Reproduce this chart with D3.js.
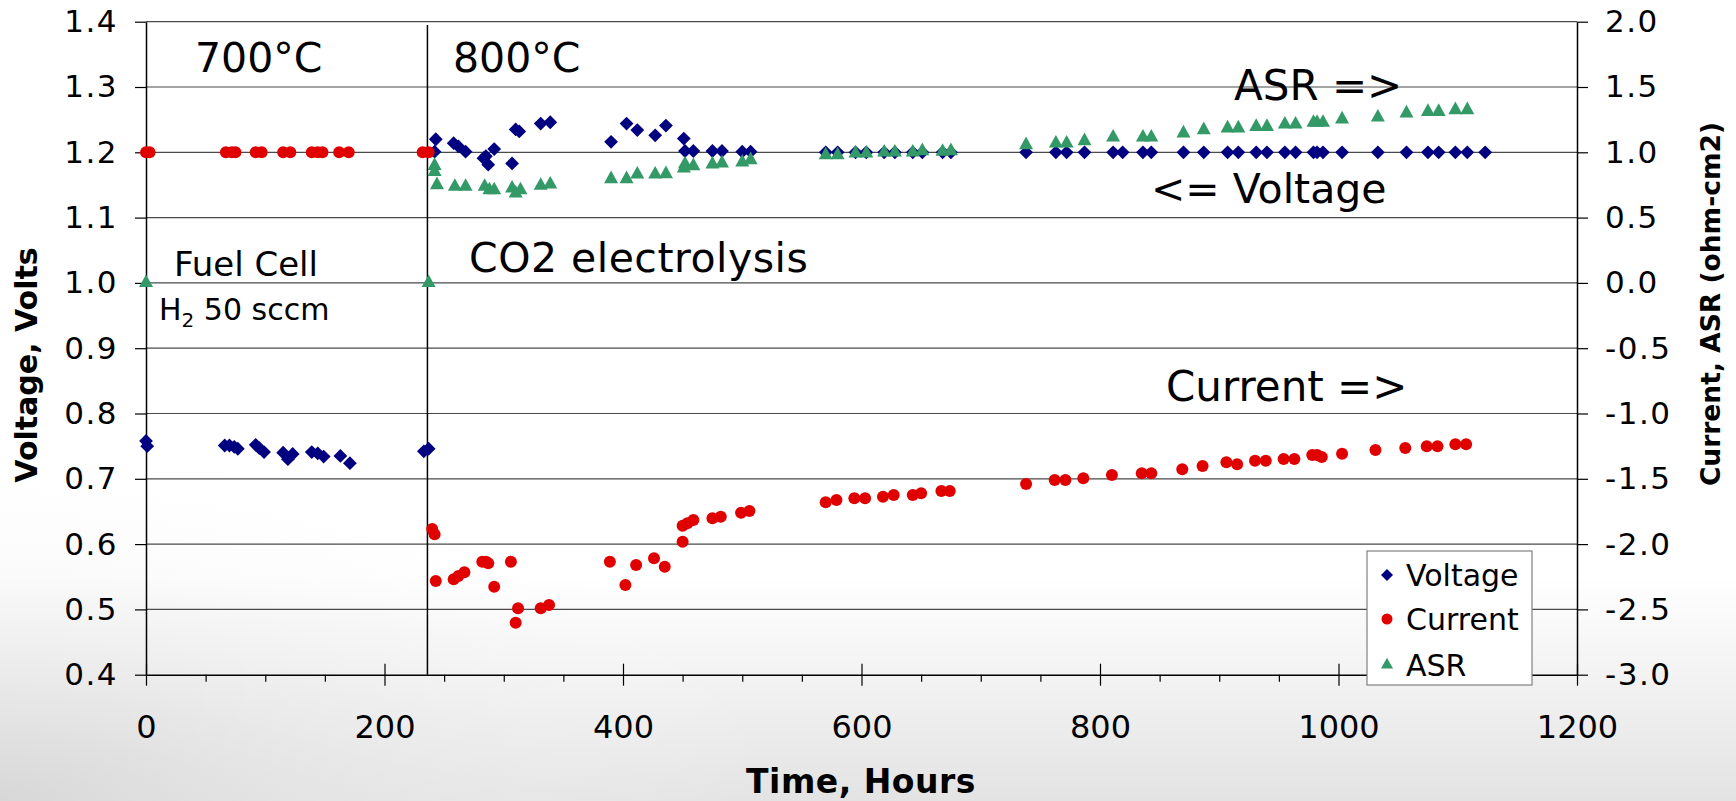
<!DOCTYPE html>
<html><head><meta charset="utf-8">
<script src="https://cdn.jsdelivr.net/npm/d3@7"></script>
<style>html,body{margin:0;padding:0;background:#fff;} svg{display:block;}</style>
</head><body>
<svg id="chart" width="1736" height="801"></svg>
<script>
// ---------- data ----------
const voltageHours = [0, 1, 66, 70, 74, 77, 92, 95, 99, 115, 119, 123, 139, 144, 149, 163, 171, 233, 237,
  242, 243, 258, 262, 268, 283, 285, 287, 292, 307, 310, 313, 331, 339,
  390, 403, 412, 427, 436, 451, 452, 459, 475, 483, 500, 507,
  570, 580, 595, 604, 619, 628, 643, 651, 668, 675,
  738, 763, 772, 787, 811, 819, 836, 843, 870, 887, 907, 916, 931, 940, 955, 964, 979, 982, 987,
  1003, 1033, 1057, 1075, 1084, 1098, 1108, 1123];
const voltageValues = [0.758, 0.750, 0.751, 0.751, 0.749, 0.746, 0.752, 0.747, 0.741, 0.740, 0.730, 0.738, 0.741, 0.739, 0.734, 0.735, 0.724, 0.742, 0.746,
  1.201, 1.220, 1.214, 1.209, 1.201, 1.191, 1.194, 1.181, 1.205, 1.183, 1.235, 1.232, 1.244, 1.246,
  1.216, 1.244, 1.234, 1.226, 1.241, 1.221, 1.202, 1.202, 1.202, 1.202, 1.201, 1.201,
  1.2, 1.2, 1.2, 1.2, 1.2, 1.2, 1.2, 1.2, 1.2, 1.2,
  1.2, 1.2, 1.2, 1.2, 1.2, 1.2, 1.2, 1.2, 1.2, 1.2, 1.2, 1.2, 1.2, 1.2, 1.2, 1.2, 1.2, 1.2, 1.2,
  1.2, 1.2, 1.2, 1.2, 1.2, 1.2, 1.2, 1.2];

const currentHours = [0, 3, 67, 72, 75, 92, 97, 115, 121, 139, 144, 148, 162, 170, 232, 237,
  240, 242, 243, 258, 262, 267, 282, 285, 287, 292, 306, 310, 312, 331, 338,
  389, 402, 411, 426, 435, 450, 450, 454, 459, 475, 482, 499, 506,
  570, 579, 594, 603, 618, 627, 643, 650, 667, 674,
  738, 762, 771, 786, 810, 835, 843, 869, 886, 906, 915, 930, 939, 954, 963, 978, 982, 986,
  1003, 1031, 1056, 1074, 1083, 1098, 1107];
const currentValues = [1.0, 1.0, 1.0, 1.0, 1.0, 1.0, 1.0, 1.0, 1.0, 1.0, 1.0, 1.0, 1.0, 1.0, 1.0, 1.0,
  -1.884, -1.925, -2.283, -2.270, -2.244, -2.216, -2.135, -2.135, -2.147, -2.326, -2.135, -2.602, -2.492, -2.492, -2.466,
  -2.135, -2.313, -2.160, -2.109, -2.173, -1.982, -1.859, -1.841, -1.815, -1.802, -1.790, -1.760, -1.747,
  -1.680, -1.662, -1.649, -1.649, -1.637, -1.624, -1.624, -1.611, -1.593, -1.593,
  -1.540, -1.509, -1.509, -1.496, -1.471, -1.458, -1.458, -1.427, -1.402, -1.374, -1.389, -1.361, -1.361, -1.348, -1.348, -1.318, -1.318, -1.333,
  -1.308, -1.280, -1.264, -1.251, -1.251, -1.236, -1.236];

const asrHours = [0, 237, 242, 242, 244, 259, 268, 284, 288, 292, 307, 310, 314, 331, 339,
  390, 403, 412, 427, 436, 451, 452, 459, 475, 483, 500, 507,
  570, 580, 595, 604, 619, 628, 643, 651, 668, 675,
  738, 763, 772, 787, 811, 836, 843, 870, 887, 907, 916, 931, 940, 955, 964, 979, 982, 987,
  1003, 1033, 1057, 1075, 1084, 1098, 1108];
const asrValues = [0.0, 0.0, 0.897, 0.851, 0.750, 0.737, 0.737, 0.737, 0.711, 0.711, 0.724, 0.686, 0.711, 0.745, 0.755,
  0.796, 0.796, 0.831, 0.831, 0.834, 0.877, 0.910, 0.895, 0.908, 0.916, 0.923, 0.941,
  0.979, 0.979, 0.992, 0.992, 1.000, 1.000, 1.000, 1.010, 1.005, 1.010,
  1.056, 1.069, 1.069, 1.087, 1.115, 1.115, 1.115, 1.146, 1.171, 1.184, 1.184, 1.196, 1.196, 1.214, 1.214, 1.227, 1.227, 1.227,
  1.253, 1.268, 1.299, 1.311, 1.311, 1.324, 1.324];

const leftTicks = [0.4, 0.5, 0.6, 0.7, 0.8, 0.9, 1.0, 1.1, 1.2, 1.3, 1.4];
const rightTicks = [-3.0, -2.5, -2.0, -1.5, -1.0, -0.5, 0.0, 0.5, 1.0, 1.5, 2.0];
const xTicks = [0, 200, 400, 600, 800, 1000, 1200];
const xMinorTicks = [50, 100, 150, 250, 300, 350, 450, 500, 550, 650, 700, 750, 850, 900, 950, 1050, 1100, 1150];
const transitionHour = 236;
const seriesNames = ["Voltage", "Current", "ASR"];

// ---------- layout ----------
const W = 1736, H = 801;
const L = 146, R = 1577, T = 21.7, B = 674.7;
const svg = d3.select("#chart");
const FONT = "'DejaVu Sans', Verdana, sans-serif";

const defs = svg.append("defs");
const grad = defs.append("linearGradient").attr("id", "bg").attr("x1", 0).attr("y1", 0).attr("x2", 0).attr("y2", 1);
grad.append("stop").attr("offset", "0.72").attr("stop-color", "#ffffff");
grad.append("stop").attr("offset", "1").attr("stop-color", "#e3e3e3");
const grad2 = defs.append("radialGradient").attr("id", "bg2").attr("cx", 0).attr("cy", 1).attr("r", 0.45);
grad2.append("stop").attr("offset", "0").attr("stop-color", "#d4d4d4").attr("stop-opacity", 0.8);
grad2.append("stop").attr("offset", "1").attr("stop-color", "#ffffff").attr("stop-opacity", 0);
svg.append("rect").attr("width", W).attr("height", H).attr("fill", "url(#bg)");
svg.append("rect").attr("width", W).attr("height", H).attr("fill", "url(#bg2)");

const x = d3.scaleLinear().domain([0, 1200]).range([L, R]);
const yL = d3.scaleLinear().domain([0.4, 1.4]).range([B, T]);
const yR = d3.scaleLinear().domain([-3.0, 2.0]).range([B, T]);

// gridlines
svg.append("g").selectAll("line").data(leftTicks.filter(d => d > 0.4)).join("line")
  .attr("x1", L).attr("x2", R).attr("y1", d => yL(d)).attr("y2", d => yL(d))
  .attr("stroke", "#4a4a4a").attr("stroke-width", 1.2);

// left axis
const gl = svg.append("g").attr("transform", `translate(${L},0)`)
  .call(d3.axisLeft(yL).tickValues(leftTicks).tickSize(11).tickSizeOuter(0).tickPadding(17).tickFormat(d => d.toFixed(1)));
// right axis
const gr = svg.append("g").attr("transform", `translate(${R},0)`)
  .call(d3.axisRight(yR).tickValues(rightTicks).tickSize(11).tickSizeOuter(0).tickPadding(17).tickFormat(d => d.toFixed(1)));
[gl, gr].forEach(g => {
  g.select(".domain").attr("stroke", "#000").attr("stroke-width", 1.5);
  g.selectAll(".tick line").attr("stroke", "#000").attr("stroke-width", 1.2);
  g.selectAll(".tick text").attr("font-family", FONT).attr("font-size", 31).attr("letter-spacing", 1.5).attr("fill", "#000");
});

// x axis minor ticks
const gxm = svg.append("g").attr("transform", `translate(0,${B})`)
  .call(d3.axisBottom(x).tickValues(xMinorTicks).tickSize(7).tickSizeOuter(0).tickFormat(""));
gxm.select(".domain").remove();
gxm.selectAll(".tick line").attr("stroke", "#000").attr("stroke-width", 1.2);
// x axis major
const gx = svg.append("g").attr("transform", `translate(0,${B})`)
  .call(d3.axisBottom(x).tickValues(xTicks).tickSize(11).tickSizeOuter(0).tickFormat(d3.format("d")));
gx.select(".domain").attr("stroke", "#000").attr("stroke-width", 1.5);
gx.selectAll(".tick line").attr("y1", -11).attr("y2", 11).attr("stroke", "#000").attr("stroke-width", 1.2);
gx.selectAll(".tick text").attr("y", 63.6).attr("dy", 0).attr("font-family", FONT).attr("font-size", 32).attr("fill", "#000");

// transition line
svg.append("line").attr("x1", x(transitionHour)).attr("x2", x(transitionHour))
  .attr("y1", yL(1.395)).attr("y2", B).attr("stroke", "#000").attr("stroke-width", 1.5);

// symbols
const diamond = { draw(ctx, size) { const r = Math.sqrt(size / 2); ctx.moveTo(0, -r); ctx.lineTo(r, 0); ctx.lineTo(0, r); ctx.lineTo(-r, 0); ctx.closePath(); } };
const triangle = { draw(ctx, size) { const w = Math.sqrt(size * 2 / 0.9); const h = w * 0.9; ctx.moveTo(0, -h * 2 / 3); ctx.lineTo(w / 2, h / 3); ctx.lineTo(-w / 2, h / 3); ctx.closePath(); } };
const diamondPath = d3.symbol().type(diamond).size(2 * 6.9 * 6.9)();
const trianglePath = d3.symbol().type(triangle).size(14 * 14 * 0.9 / 2)();
const COLORS = { Voltage: "#000080", Current: "#e00000", ASR: "#339966" };

svg.append("g").selectAll("path").data(voltageHours).join("path")
  .attr("d", diamondPath).attr("fill", COLORS.Voltage)
  .attr("transform", (d, i) => `translate(${x(d)},${yL(voltageValues[i])})`);
svg.append("g").selectAll("circle").data(currentHours).join("circle")
  .attr("cx", d => x(d)).attr("cy", (d, i) => yR(currentValues[i])).attr("r", 6)
  .attr("fill", COLORS.Current);
svg.append("g").selectAll("path").data(asrHours).join("path")
  .attr("d", trianglePath).attr("fill", COLORS.ASR)
  .attr("transform", (d, i) => `translate(${x(d)},${yR(asrValues[i])})`);

// annotations
const ann = svg.append("g").attr("font-family", FONT).attr("fill", "#000");
ann.append("text").attr("x", 195).attr("y", 71.7).attr("font-size", 41).text("700°C");
ann.append("text").attr("x", 453).attr("y", 71.7).attr("font-size", 41).text("800°C");
ann.append("text").attr("x", 174).attr("y", 276).attr("font-size", 34).text("Fuel Cell");
const h2 = ann.append("text").attr("x", 159).attr("y", 320).attr("font-size", 30);
h2.append("tspan").text("H");
h2.append("tspan").attr("font-size", 20).attr("dy", 7).text("2");
h2.append("tspan").attr("dy", -7).text(" 50 sccm");
ann.append("text").attr("x", 469).attr("y", 271.7).attr("font-size", 41).attr("letter-spacing", 0.5).text("CO2 electrolysis");
ann.append("text").attr("x", 1234).attr("y", 100).attr("font-size", 42).text("ASR =>");
ann.append("text").attr("x", 1151).attr("y", 203).attr("font-size", 41).text("<= Voltage");
ann.append("text").attr("x", 1166).attr("y", 401).attr("font-size", 42).text("Current =>");

// axis titles
const titles = svg.append("g").attr("font-family", FONT).attr("font-weight", "bold").attr("fill", "#000").attr("text-anchor", "middle");
titles.append("text").attr("transform", "translate(37,365) rotate(-90)").attr("font-size", 30).text("Voltage, Volts");
titles.append("text").attr("transform", "translate(1720,304) rotate(-90)").attr("font-size", 26.5).text("Current, ASR (ohm-cm2)");
titles.append("text").attr("x", 861).attr("y", 793).attr("font-size", 33).attr("letter-spacing", 0.5).text("Time, Hours");

// legend
const lg = svg.append("g");
lg.append("rect").attr("x", 1367).attr("y", 551).attr("width", 165).attr("height", 134)
  .attr("fill", "#fff").attr("stroke", "#808080").attr("stroke-width", 1.2);
const rowY = [575, 619, 665];
const items = lg.selectAll("g.item").data(seriesNames).join("g").attr("class", "item")
  .attr("transform", (d, i) => `translate(1387,${rowY[i]})`);
items.each(function (d) {
  const g = d3.select(this);
  if (d === "Voltage") g.append("path").attr("d", d3.symbol().type(diamond).size(2 * 6 * 6)()).attr("fill", COLORS[d]);
  else if (d === "Current") g.append("circle").attr("r", 5.5).attr("fill", COLORS[d]);
  else g.append("path").attr("d", d3.symbol().type(triangle).size(12 * 12 * 0.9 / 2)()).attr("fill", COLORS[d]);
  g.append("text").attr("x", 19).attr("y", 11).attr("font-family", FONT).attr("font-size", 30).attr("fill", "#000").text(d);
});
</script>
</body></html>
